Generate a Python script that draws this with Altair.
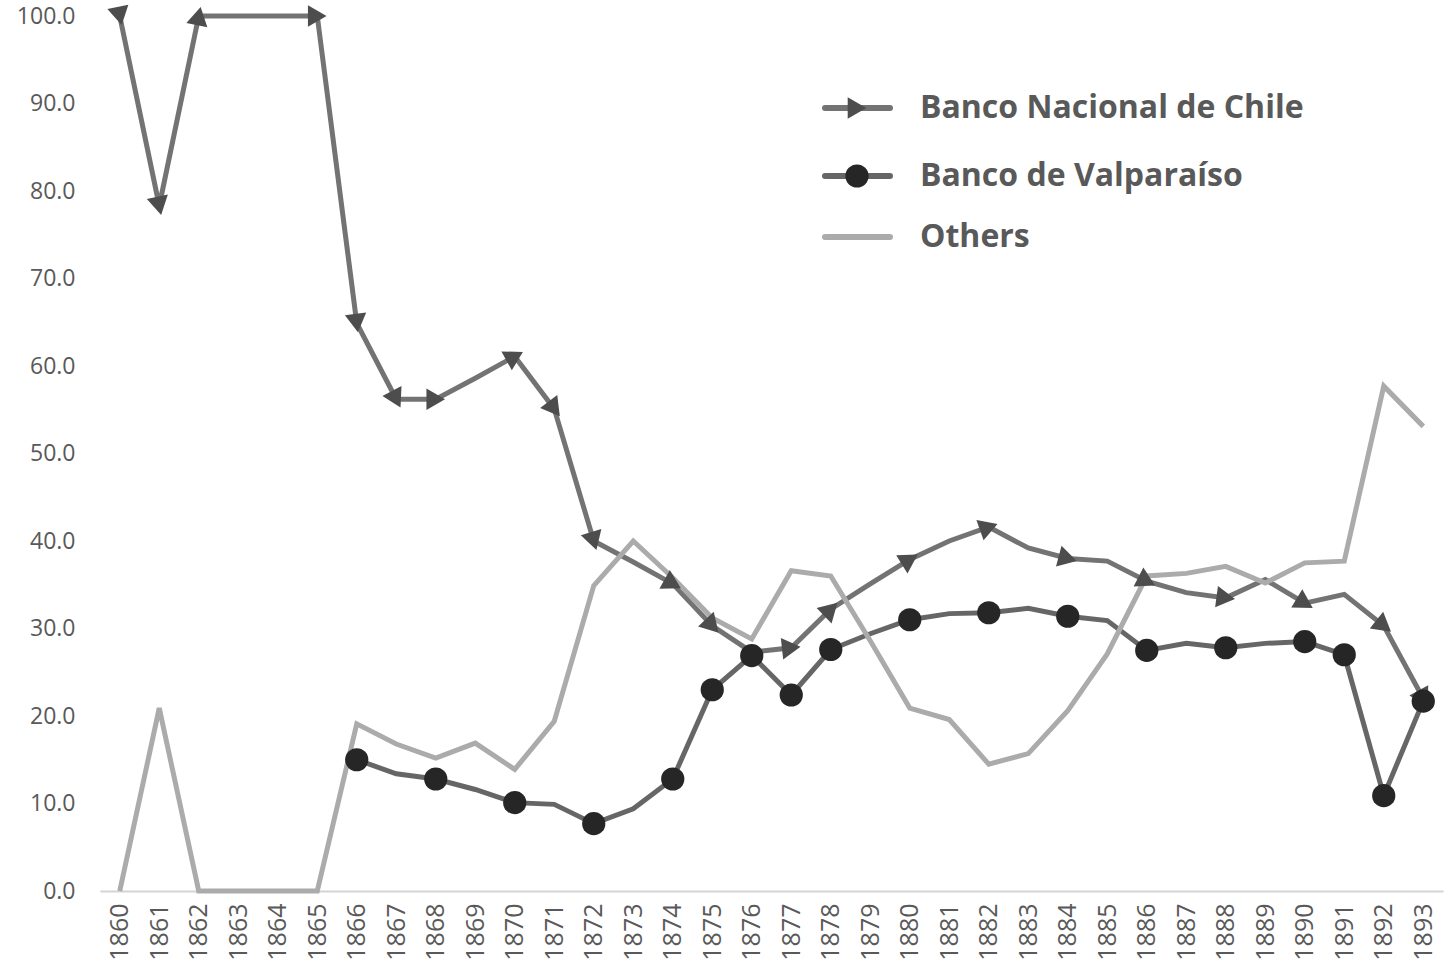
import math
import altair as alt
import pandas as pd

years = list(range(1860, 1894))

nacional = [100.0, 78.3, 100.0, 100.0, 100.0, 100.0, 64.9, 56.2, 56.2, 58.6,
            61.1, 55.1, 40.0, 37.6, 35.1, 30.3, 27.3, 27.8, 32.2, 35.1,
            37.9, 40.0, 41.6, 39.2, 38.0, 37.7, 35.4, 34.1, 33.5, 35.6,
            32.9, 33.9, 30.3, 22.0]

valparaiso = [None, None, None, None, None, None, 15.0, 13.4, 12.8, 11.6,
              10.1, 9.9, 7.7, 9.4, 12.8, 23.0, 26.9, 22.4, 27.6, 29.4,
              31.0, 31.7, 31.8, 32.3, 31.4, 30.9, 27.5, 28.3, 27.8, 28.3,
              28.5, 27.0, 10.9, 21.7]

others = [0.0, 20.9, 0.0, 0.0, 0.0, 0.0, 19.1, 16.8, 15.2, 16.9,
          13.9, 19.4, 34.9, 40.0, 35.8, 31.2, 28.8, 36.6, 36.0, 28.6,
          20.9, 19.6, 14.5, 15.7, 20.6, 27.1, 36.0, 36.3, 37.1, 35.2,
          37.5, 37.7, 57.7, 53.1]

nacional_marker_years = [1860, 1861, 1862, 1865, 1866, 1867, 1868, 1870, 1871, 1872,
                         1874, 1875, 1877, 1878, 1880, 1882, 1884, 1886, 1888, 1890,
                         1892, 1893]
valparaiso_marker_years = [1866, 1868, 1870, 1872, 1874, 1875, 1876, 1877, 1878, 1880,
                           1882, 1884, 1886, 1888, 1890, 1891, 1892, 1893]

series_names = ["Banco Nacional de Chile", "Banco de Valparaíso", "Others"]

# ---- layout ----
PLOT_W = 1343
PLOT_H = 875
STEP = PLOT_W / len(years)
PX_PER_UNIT = PLOT_H / 100.0

TEXT = "#595959"
C_NAC_LINE = "#737373"
C_NAC_MARK = "#4d4d4d"
C_VAL_LINE = "#666666"
C_VAL_MARK = "#262626"
C_OTH = "#ababab"
FONT = "Open Sans"

df_nac = pd.DataFrame({"year": years, "value": nacional})
df_val = pd.DataFrame({"year": years, "value": valparaiso}).dropna()
df_oth = pd.DataFrame({"year": years, "value": others})

# marker orientation follows the line direction (incoming segment)
angles = []
for i, yv in enumerate(years):
    if i == 0:
        dv = nacional[1] - nacional[0]
    else:
        dv = nacional[i] - nacional[i - 1]
    ang = math.degrees(math.atan2(-dv * PX_PER_UNIT, STEP))
    angles.append(ang % 360)
df_nac_m = pd.DataFrame({"year": years, "value": nacional, "ang": angles})
df_nac_m = df_nac_m[df_nac_m["year"].isin(nacional_marker_years)]
df_val_m = df_val[df_val["year"].isin(valparaiso_marker_years)]

x_enc = alt.X(
    "year:O",
    scale=alt.Scale(type="point", padding=0.5),
    axis=alt.Axis(
        title=None, labelAngle=-90, ticks=False, domain=True,
        domainColor="#d4d4d4", domainWidth=2, labelPadding=12,
        labelFont=FONT, labelFontSize=25, labelColor=TEXT, grid=False,
    ),
)
y_enc = alt.Y(
    "value:Q",
    scale=alt.Scale(domain=[0, 100], nice=False, zero=True),
    axis=alt.Axis(
        title=None, values=list(range(0, 101, 10)), format=".1f",
        ticks=False, domain=False, grid=False, labelPadding=25,
        labelFont=FONT, labelFontSize=23, labelColor=TEXT,
    ),
)

line_nac = alt.Chart(df_nac).mark_line(color=C_NAC_LINE, strokeWidth=5).encode(x=x_enc, y=y_enc)
line_val = alt.Chart(df_val).mark_line(color=C_VAL_LINE, strokeWidth=5).encode(x="year:O", y="value:Q")
line_oth = alt.Chart(df_oth).mark_line(color=C_OTH, strokeWidth=5).encode(x="year:O", y="value:Q")

pts_nac = alt.Chart(df_nac_m).mark_point(
    shape="triangle-right", filled=True, color=C_NAC_MARK, size=460, opacity=1
).encode(x="year:O", y="value:Q", angle=alt.Angle("ang:Q", scale=None))
pts_val = alt.Chart(df_val_m).mark_point(
    shape="circle", filled=True, color=C_VAL_MARK, size=540, opacity=1
).encode(x="year:O", y="value:Q")

# ---- manual legend (pixel positions inside plot area) ----
LX1, LX2, LXM, LXT = 725, 790, 757, 820
ROWS = [92, 160, 221]
leg_layers = []
line_cols = [C_NAC_LINE, C_VAL_LINE, C_OTH]
for name, ry, lc in zip(series_names, ROWS, line_cols):
    base = alt.Chart(pd.DataFrame({"label": [name]}))
    leg_layers.append(
        base.mark_rule(color=lc, strokeWidth=6, strokeCap="round").encode(
            x=alt.value(LX1), x2=alt.value(LX2), y=alt.value(ry)
        )
    )
    leg_layers.append(
        base.mark_text(align="left", baseline="middle", font=FONT, fontSize=32,
                       fontWeight="bold", color=TEXT).encode(
            x=alt.value(LXT), y=alt.value(ry), text="label:N"
        )
    )
leg_layers.append(
    alt.Chart(pd.DataFrame({"label": [series_names[0]]})).mark_point(
        shape="triangle-right", filled=True, color=C_NAC_MARK, size=460, opacity=1
    ).encode(x=alt.value(LXM), y=alt.value(ROWS[0]))
)
leg_layers.append(
    alt.Chart(pd.DataFrame({"label": [series_names[1]]})).mark_point(
        shape="circle", filled=True, color=C_VAL_MARK, size=540, opacity=1
    ).encode(x=alt.value(LXM), y=alt.value(ROWS[1]))
)

chart = alt.layer(
    line_nac, line_val, line_oth, pts_nac, pts_val, *leg_layers
).properties(
    width=PLOT_W, height=PLOT_H,
    padding={"left": 100, "top": 16, "right": 8, "bottom": 88},
    autosize=alt.AutoSizeParams(type="none"),
    background="white",
).configure_view(strokeWidth=0, stroke="transparent")

chart.save("out.html", embed_options={"renderer": "svg", "actions": False})
